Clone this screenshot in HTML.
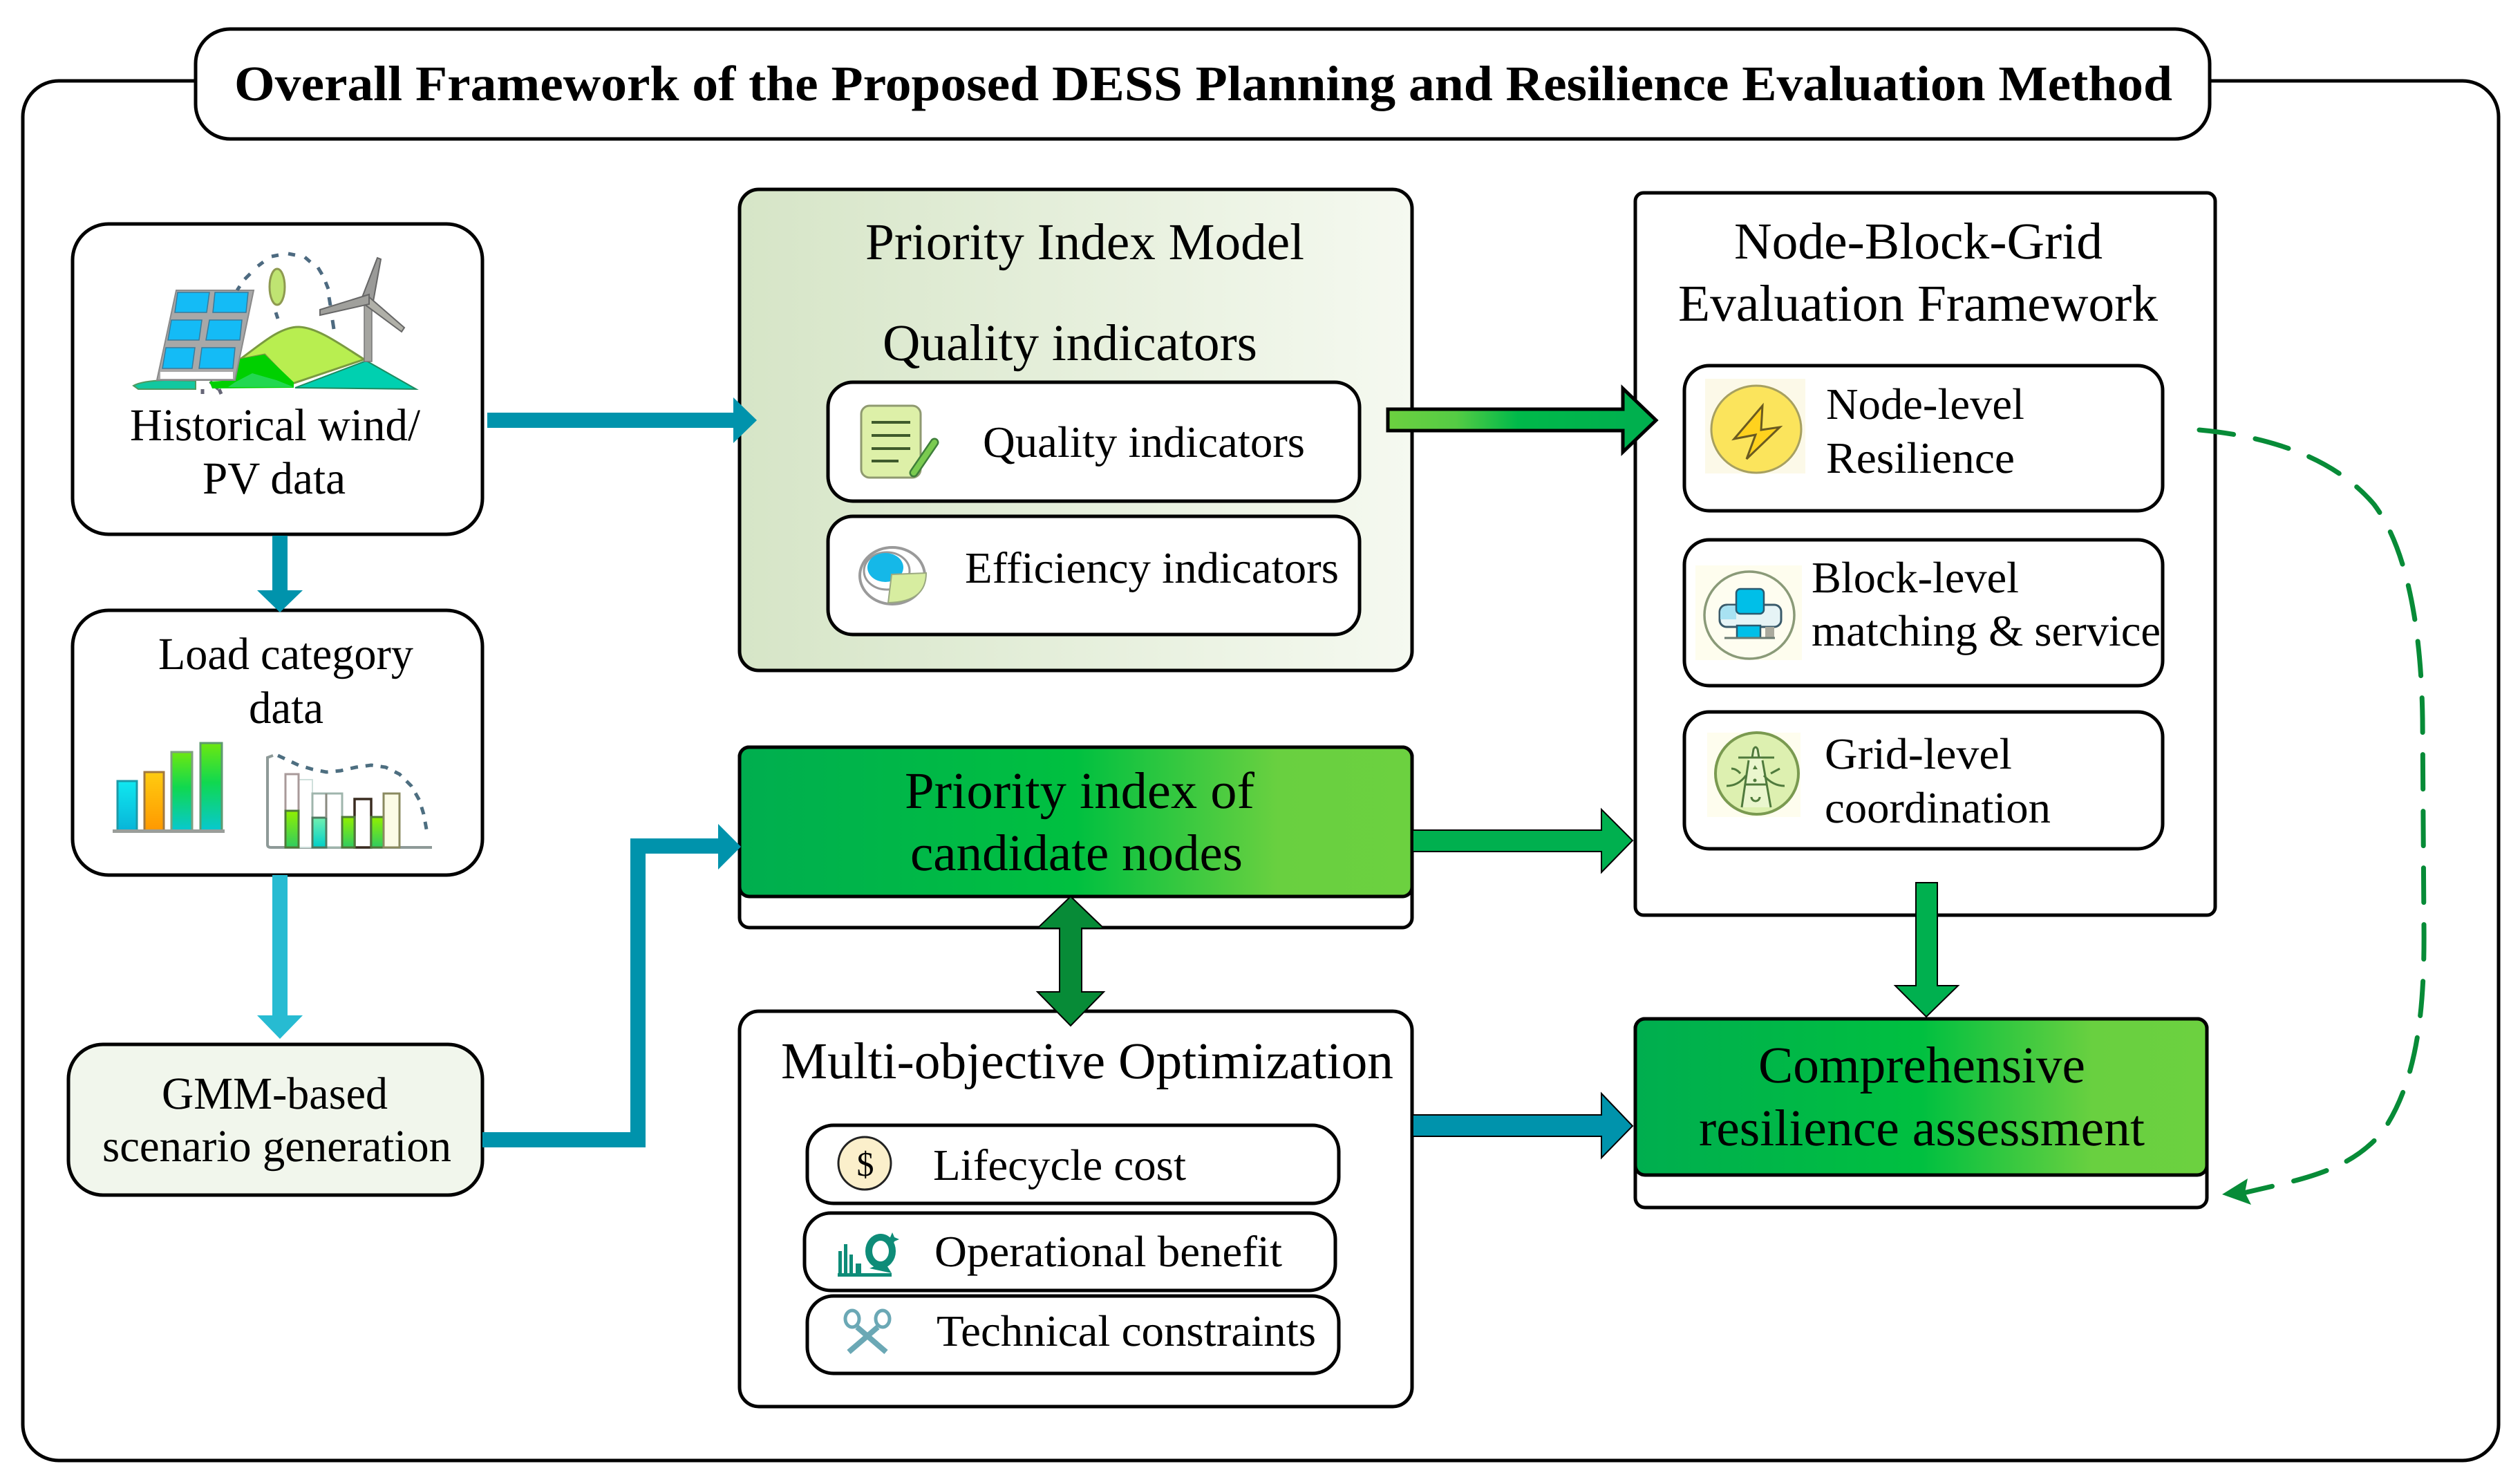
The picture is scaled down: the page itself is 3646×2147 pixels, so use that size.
<!DOCTYPE html>
<html><head><meta charset="utf-8">
<style>html,body{margin:0;padding:0;background:#fff}svg{display:block}
text{font-family:"Liberation Serif",serif;fill:#000;text-rendering:geometricPrecision}</style></head>
<body>
<svg xmlns="http://www.w3.org/2000/svg" width="3646" height="2147" viewBox="0 0 3646 2147">
<defs>
<linearGradient id="pale" x1="0" x2="1" y1="0" y2="0"><stop offset="0" stop-color="#D6E5C7"/><stop offset="1" stop-color="#F5F9F0"/></linearGradient>
<linearGradient id="grn" x1="0" x2="1" y1="0" y2="0"><stop offset="0" stop-color="#00AE4F"/><stop offset=".5" stop-color="#00C040"/><stop offset=".8" stop-color="#69D040"/><stop offset="1" stop-color="#6CD140"/></linearGradient>
<linearGradient id="grnA" gradientUnits="userSpaceOnUse" x1="2008" x2="2400" y1="0" y2="0"><stop offset="0" stop-color="#6CD140"/><stop offset=".25" stop-color="#55CC44"/><stop offset=".48" stop-color="#00B94A"/><stop offset="1" stop-color="#00AE4F"/></linearGradient>
<linearGradient id="b1" x1="0" x2="0" y1="0" y2="1"><stop offset="0" stop-color="#10E8F0"/><stop offset="1" stop-color="#08B4D8"/></linearGradient>
<linearGradient id="b2" x1="0" x2="0" y1="0" y2="1"><stop offset="0" stop-color="#FFCC10"/><stop offset="1" stop-color="#FF9800"/></linearGradient>
<linearGradient id="b3" x1="0" x2="0" y1="0" y2="1"><stop offset="0" stop-color="#6CE810"/><stop offset=".45" stop-color="#10D850"/><stop offset="1" stop-color="#08C8D0"/></linearGradient>
<linearGradient id="g4" x1="0" x2="0" y1="0" y2="1"><stop offset="0" stop-color="#90F000"/><stop offset="1" stop-color="#30CC60"/></linearGradient>
<linearGradient id="g5" x1="0" x2="0" y1="0" y2="1"><stop offset="0" stop-color="#70F0B0"/><stop offset="1" stop-color="#00D0C8"/></linearGradient>
</defs>

<!-- outer frame -->
<rect x="33" y="117" width="3582" height="1996" rx="52" fill="#fff" stroke="#000" stroke-width="5"/>
<rect x="283" y="42" width="2914" height="159" rx="50" fill="#fff" stroke="#000" stroke-width="5"/>
<text x="339" y="145" font-size="72" font-weight="bold" textLength="2804" lengthAdjust="spacingAndGlyphs">Overall Framework of the Proposed DESS Planning and Resilience Evaluation Method</text>

<!-- left column boxes -->
<rect x="105" y="324" width="593" height="449" rx="52" fill="#fff" stroke="#000" stroke-width="5"/>
<rect x="105" y="883" width="593" height="383" rx="52" fill="#fff" stroke="#000" stroke-width="5"/>
<rect x="99" y="1511" width="599" height="218" rx="50" fill="#F1F6EC" stroke="#000" stroke-width="5"/>

<!-- wind/PV icon -->
<g>
<path d="M193 558 Q205 551 240 550 L283 551 L283 563 L200 563 Z" fill="#12C8A0" stroke="#4F9A60" stroke-width="2"/>
<path d="M293 563 L293 570 M317 563 L320 570 M304 552 L316 563" stroke="#667" stroke-width="5" fill="none"/>
<path d="M347 520 C375 500 405 472 433 473 C460 474 495 500 527 520 L423 555 L383 513 Z" fill="#B8EE50" stroke="#7A9A40" stroke-width="3"/>
<path d="M340 550 L343 520 L383 513 L425 553 L425 561 L307 562 L303 552 Z" fill="#00D000"/>
<path d="M340 553 L365 540 L400 550 L425 560 L330 560 Z" fill="#22D850"/>
<path d="M427 561 L530 522 L602 563 Z" fill="#00D0B0" stroke="#1E8A60" stroke-width="2"/>
<polygon points="255,420 367,420 340,550 227,550" fill="#A8A8A8" stroke="#8a8a8a" stroke-width="2"/>
<polygon points="257,423 303,423 299,452 253,452" fill="#14BBF6" stroke="#3A7A9A" stroke-width="1.5"/>
<polygon points="311,423 359,423 356,452 308,452" fill="#14BBF6" stroke="#3A7A9A" stroke-width="1.5"/>
<polygon points="248,463 292,463 288,492 243,492" fill="#14BBF6" stroke="#3A7A9A" stroke-width="1.5"/>
<polygon points="303,463 350,463 347,492 298,492" fill="#14BBF6" stroke="#3A7A9A" stroke-width="1.5"/>
<polygon points="240,503 282,503 278,533 235,533" fill="#14BBF6" stroke="#3A7A9A" stroke-width="1.5"/>
<polygon points="292,503 340,503 337,533 288,533" fill="#14BBF6" stroke="#3A7A9A" stroke-width="1.5"/>
<rect x="232" y="538" width="105" height="10" fill="#fff"/>
<rect x="527" y="433" width="11" height="90" fill="#A5A5A0" stroke="#777" stroke-width="1.5"/>
<polygon points="524,430 546,373 551,375 540,436" fill="#9a9a98" stroke="#666" stroke-width="2"/>
<polygon points="532,428 585,474 581,480 527,440" fill="#B0B0A8" stroke="#666" stroke-width="2"/>
<polygon points="534,426 463,448 463,456 534,440" fill="#A0A09C" stroke="#666" stroke-width="2"/>
<ellipse cx="401" cy="415" rx="11" ry="26" fill="#BFE472" stroke="#8E9A50" stroke-width="3"/>
<path d="M343 420 L347 414 M354 404 L362 396 M373 385 L381 379 M393 371 L403 369 M417 367 L427 369 M441 372 L449 379 M460 387 L466 397 M471 408 L475 418 M476 430 L478 442 M481 463 L483 476 M399 452 L402 461" fill="none" stroke="#4D6A80" stroke-width="5"/>
</g>
<text x="188" y="637" font-size="66" textLength="420" lengthAdjust="spacingAndGlyphs">Historical wind/</text>
<text x="293" y="714" font-size="66" textLength="207" lengthAdjust="spacingAndGlyphs">PV data</text>

<!-- load icon -->
<text x="229" y="968" font-size="66" textLength="369" lengthAdjust="spacingAndGlyphs">Load category</text>
<text x="360" y="1046" font-size="66" textLength="108" lengthAdjust="spacingAndGlyphs">data</text>
<g>
<rect x="170" y="1130" width="28" height="72" fill="url(#b1)" stroke="#1C9AA8" stroke-width="3"/>
<rect x="209" y="1117" width="28" height="85" fill="url(#b2)" stroke="#A07840" stroke-width="3"/>
<rect x="248" y="1088" width="30" height="114" fill="url(#b3)" stroke="#7FA080" stroke-width="3"/>
<rect x="290" y="1075" width="31" height="127" fill="url(#b3)" stroke="#5E9A70" stroke-width="3"/>
<rect x="163" y="1200" width="162" height="5" fill="#9A9E9A"/>
<path d="M395 1093 L387 1096 L387 1222 Q387 1226 392 1226 L625 1226" fill="none" stroke="#8E9A98" stroke-width="4"/>
<rect x="432" y="1128" width="20" height="98" fill="#fff" stroke="#CFE0DC" stroke-width="2"/>
<rect x="413" y="1120" width="19" height="106" fill="#fff" stroke="#A89A9A" stroke-width="3"/>
<rect x="413" y="1173" width="19" height="53" fill="url(#g4)" stroke="#4E7A38" stroke-width="3"/>
<rect x="452" y="1148" width="43" height="78" fill="#fff" stroke="#9FB5AC" stroke-width="3"/>
<rect x="452" y="1183" width="20" height="43" fill="url(#g5)" stroke="#4E7A60" stroke-width="3"/>
<path d="M472 1148 V1183" stroke="#8A8A80" stroke-width="3"/>
<rect x="513" y="1156" width="24" height="70" fill="#fff" stroke="#3A2C20" stroke-width="3.5"/>
<rect x="495" y="1182" width="18" height="44" fill="url(#g4)" stroke="#4E7A38" stroke-width="3"/>
<rect x="537" y="1182" width="18" height="44" fill="url(#g4)" stroke="#4E7A38" stroke-width="3"/>
<rect x="555" y="1148" width="23" height="78" fill="#FBFBE6" stroke="#8A8A60" stroke-width="3"/>
<polyline points="402,1093 432,1107 452,1113 472,1117 493,1115 515,1110 537,1107 558,1110 578,1120 595,1137 607,1158 613,1178 618,1205" fill="none" stroke="#4D6E80" stroke-width="5" stroke-dasharray="11 11"/>
</g>
<text x="234" y="1604" font-size="66" textLength="327" lengthAdjust="spacingAndGlyphs">GMM-based</text>
<text x="148" y="1680" font-size="66" textLength="505" lengthAdjust="spacingAndGlyphs">scenario generation</text>

<!-- Priority Index Model -->
<rect x="1070" y="274" width="973" height="696" rx="28" fill="url(#pale)" stroke="#000" stroke-width="5"/>
<text x="1252" y="375" font-size="75" textLength="635" lengthAdjust="spacingAndGlyphs">Priority Index Model</text>
<text x="1277" y="521" font-size="75" textLength="542" lengthAdjust="spacingAndGlyphs">Quality indicators</text>
<rect x="1198" y="553" width="769" height="172" rx="36" fill="#fff" stroke="#000" stroke-width="5"/>
<rect x="1198" y="747" width="769" height="171" rx="36" fill="#fff" stroke="#000" stroke-width="5"/>
<text x="1422" y="661" font-size="64" textLength="466" lengthAdjust="spacingAndGlyphs">Quality indicators</text>
<text x="1396" y="843" font-size="64" textLength="541" lengthAdjust="spacingAndGlyphs">Efficiency indicators</text>
<g>
<rect x="1246" y="587" width="86" height="104" rx="12" fill="#DDF0A8" stroke="#8f9a70" stroke-width="3"/>
<path d="M1261 611H1317M1261 630H1317M1261 649H1317M1261 667H1300" stroke="#3F5A2C" stroke-width="4"/>
<path d="M1352 640 L1322 684" stroke="#3E7E3A" stroke-width="13" stroke-linecap="round"/>
<path d="M1352 640 L1322 684" stroke="#7ACB50" stroke-width="8" stroke-linecap="round"/>
</g>
<g>
<ellipse cx="1291" cy="833" rx="47" ry="41" fill="#fff" stroke="#9a9a9a" stroke-width="4"/>
<ellipse cx="1283" cy="826" rx="33" ry="27" fill="none" stroke="#999" stroke-width="3"/>
<ellipse cx="1281" cy="821" rx="26" ry="21" fill="#15B8E8"/>
<path d="M1290 831 L1340 829 C1340 855 1325 871 1285 872 Z" fill="#D7EDA0" stroke="#9aa880" stroke-width="2"/>
</g>

<!-- Priority index of candidate nodes -->
<rect x="1070" y="1081" width="973" height="261" rx="14" fill="#fff" stroke="#000" stroke-width="5"/>
<rect x="1070" y="1081" width="973" height="216" rx="14" fill="url(#grn)" stroke="#000" stroke-width="5"/>
<text x="1309" y="1169" font-size="75" textLength="506" lengthAdjust="spacingAndGlyphs">Priority index of</text>
<text x="1317" y="1259" font-size="75" textLength="481" lengthAdjust="spacingAndGlyphs">candidate nodes</text>

<!-- Multi-objective -->
<rect x="1070" y="1463" width="973" height="572" rx="28" fill="#fff" stroke="#000" stroke-width="5"/>
<text x="1130" y="1560" font-size="75" textLength="886" lengthAdjust="spacingAndGlyphs">Multi-objective Optimization</text>
<rect x="1168" y="1628" width="769" height="113" rx="38" fill="#fff" stroke="#000" stroke-width="5"/>
<rect x="1164" y="1755" width="768" height="112" rx="38" fill="#fff" stroke="#000" stroke-width="5"/>
<rect x="1168" y="1875" width="769" height="112" rx="38" fill="#fff" stroke="#000" stroke-width="5"/>
<text x="1350" y="1707" font-size="64" textLength="366" lengthAdjust="spacingAndGlyphs">Lifecycle cost</text>
<text x="1352" y="1832" font-size="64" textLength="503" lengthAdjust="spacingAndGlyphs">Operational benefit</text>
<text x="1355" y="1947" font-size="64" textLength="549" lengthAdjust="spacingAndGlyphs">Technical constraints</text>
<ellipse cx="1251" cy="1683" rx="38" ry="38" fill="#FBEFCB" stroke="#222" stroke-width="3"/>
<text x="1252" y="1701" font-size="50" text-anchor="middle">$</text>
<g fill="#0E8C78">
<rect x="1213" y="1810" width="5" height="32"/><rect x="1221" y="1800" width="5" height="42"/><rect x="1229" y="1815" width="5" height="27"/><rect x="1238" y="1828" width="8" height="14"/>
<rect x="1212" y="1842" width="78" height="5"/>
<ellipse cx="1274" cy="1810" rx="17" ry="20" fill="none" stroke="#0E8C78" stroke-width="10"/>
<path d="M1258 1835 L1290 1842 L1280 1826Z"/>
<path d="M1291 1783 l3 7 7 3 -7 3 -3 7 -3 -7 -7 -3 7 -3Z"/>
</g>
<g fill="none" stroke="#6BA8B5" stroke-width="5">
<ellipse cx="1233" cy="1908" rx="10" ry="12"/><ellipse cx="1277" cy="1908" rx="10" ry="12"/>
<path d="M1240 1920 L1282 1956 M1270 1920 L1228 1956" stroke-width="8"/>
</g>

<!-- Node-Block-Grid -->
<rect x="2366" y="279" width="839" height="1045" rx="12" fill="#fff" stroke="#000" stroke-width="5"/>
<text x="2509" y="374" font-size="75" textLength="533" lengthAdjust="spacingAndGlyphs">Node-Block-Grid</text>
<text x="2428" y="464" font-size="75" textLength="694" lengthAdjust="spacingAndGlyphs">Evaluation Framework</text>
<rect x="2437" y="529" width="692" height="210" rx="36" fill="#fff" stroke="#000" stroke-width="5"/>
<rect x="2437" y="781" width="692" height="211" rx="36" fill="#fff" stroke="#000" stroke-width="5"/>
<rect x="2437" y="1030" width="692" height="198" rx="36" fill="#fff" stroke="#000" stroke-width="5"/>
<text x="2642" y="606" font-size="64" textLength="287" lengthAdjust="spacingAndGlyphs">Node-level</text>
<text x="2642" y="684" font-size="64" textLength="273" lengthAdjust="spacingAndGlyphs">Resilience</text>
<text x="2621" y="857" font-size="64" textLength="300" lengthAdjust="spacingAndGlyphs">Block-level</text>
<text x="2621" y="934" font-size="64" textLength="505" lengthAdjust="spacingAndGlyphs">matching &amp; service</text>
<text x="2640" y="1112" font-size="64" textLength="271" lengthAdjust="spacingAndGlyphs">Grid-level</text>
<text x="2640" y="1190" font-size="64" textLength="327" lengthAdjust="spacingAndGlyphs">coordination</text>

<rect x="2467" y="548" width="145" height="137" fill="#FCF9E8"/>
<ellipse cx="2541" cy="621" rx="65" ry="63" fill="#FBE45C" stroke="#A7A060" stroke-width="3"/>
<polygon points="2550,587 2509,635 2540,629 2527,664 2575,618 2548,622" fill="#FFD21E" stroke="#6A5A20" stroke-width="3"/>

<rect x="2453" y="818" width="154" height="137" fill="#FEFDEE"/>
<ellipse cx="2531" cy="890" rx="65" ry="63" fill="#FEFDF0" stroke="#8A9A78" stroke-width="3.5"/>
<g>
<rect x="2488" y="875" width="89" height="32" rx="10" fill="#E6F4F6" stroke="#3A5A6A" stroke-width="3"/>
<path d="M2489 885 Q2490 877 2500 876 L2512 876 L2512 896 L2489 896 Z" fill="#A8E2F2"/>
<rect x="2512" y="852" width="40" height="36" rx="6" fill="#00BFE8" stroke="#2A5A70" stroke-width="2.5"/>
<rect x="2513" y="905" width="34" height="18" fill="#00BFE8" stroke="#2A5A70" stroke-width="2.5"/>
<rect x="2554" y="907" width="13" height="15" fill="#AAAA9E"/>
<path d="M2495 923 H2568" stroke="#6A7A70" stroke-width="3"/>
</g>

<rect x="2470" y="1060" width="135" height="122" fill="#FEFDEE"/>
<ellipse cx="2542" cy="1119" rx="60" ry="59" fill="#DDF0B0" stroke="#7A9A50" stroke-width="4"/>
<path d="M2535 1084 Q2540 1076 2545 1084 L2550 1100 L2562 1168 H2520 L2530 1100 Z" fill="#EAF6CE"/>
<g fill="none" stroke="#4F7A3C" stroke-width="3">
<path d="M2530 1100 L2520 1168 M2550 1100 L2562 1168 M2535 1096 L2537 1084 Q2540 1078 2543 1084 L2545 1096 M2515 1096 H2567 M2526 1135 H2556"/>
<path d="M2498 1137 Q2515 1137 2526 1122 M2582 1137 Q2565 1137 2552 1122 M2505 1112 Q2512 1112 2518 1119 M2575 1112 L2562 1119"/>
<path d="M2534 1153 a6 6 0 0 0 12 0"/>
</g>
<circle cx="2539" cy="1129" r="2.5" fill="#4F7A3C"/><path d="M2536 1113 L2539 1107 L2543 1113Z" fill="#4F7A3C"/>

<!-- Comprehensive -->
<rect x="2366" y="1474" width="827" height="273" rx="14" fill="#fff" stroke="#000" stroke-width="5"/>
<rect x="2366" y="1474" width="827" height="226" rx="14" fill="url(#grn)" stroke="#000" stroke-width="5"/>
<text x="2544" y="1566" font-size="75" textLength="473" lengthAdjust="spacingAndGlyphs">Comprehensive</text>
<text x="2458" y="1657" font-size="75" textLength="645" lengthAdjust="spacingAndGlyphs">resilience assessment</text>

<!-- teal arrows -->
<polygon points="705,597 1061,597 1061,575 1095,608 1061,641 1061,619 705,619" fill="#0093AC"/>
<polygon points="394,775 416,775 416,854 438,854 405,886 372,854 394,854" fill="#0093AC"/>
<polygon points="394,1266 416,1266 416,1469 438,1469 405,1503 372,1469 394,1469" fill="#27BBD2"/>
<polygon points="698,1638 912,1638 912,1213 1039,1213 1039,1192 1072,1225 1039,1258 1039,1235 934,1235 934,1660 698,1660" fill="#0093AC"/>

<!-- green arrows -->
<polygon points="2008,592 2348,592 2348,562 2396,608 2348,654 2348,623 2008,623" fill="url(#grnA)" stroke="#000" stroke-width="5"/>
<polygon points="2044,1201 2317,1201 2317,1171 2362,1216 2317,1262 2317,1232 2044,1232" fill="#00B04F" stroke="#000" stroke-width="2"/>
<polygon points="2044,1613 2317,1613 2317,1582 2362,1629 2317,1675 2317,1644 2044,1644" fill="#0093AC" stroke="#000" stroke-width="2"/>
<polygon points="2772,1277 2803,1277 2803,1426 2833,1426 2787,1471 2742,1426 2772,1426" fill="#00B04F" stroke="#000" stroke-width="2"/>
<polygon points="1549,1297 1597,1343 1565,1343 1565,1435 1597,1435 1549,1484 1501,1435 1533,1435 1533,1343 1501,1343" fill="#078B37" stroke="#000" stroke-width="2"/>

<!-- dashed feedback -->
<path d="M3182 622 C3290 632 3380 665 3435 730 C3480 790 3503 900 3505 1040 L3507 1340 C3508 1450 3500 1560 3448 1636 C3400 1695 3330 1706 3250 1725" fill="none" stroke="#078B37" stroke-width="7" stroke-dasharray="50 32" stroke-linecap="round" stroke-linejoin="round"/>
<polygon points="3215,1728 3252,1705 3248,1725 3257,1743" fill="#078B37"/>
</svg>
</body></html>
